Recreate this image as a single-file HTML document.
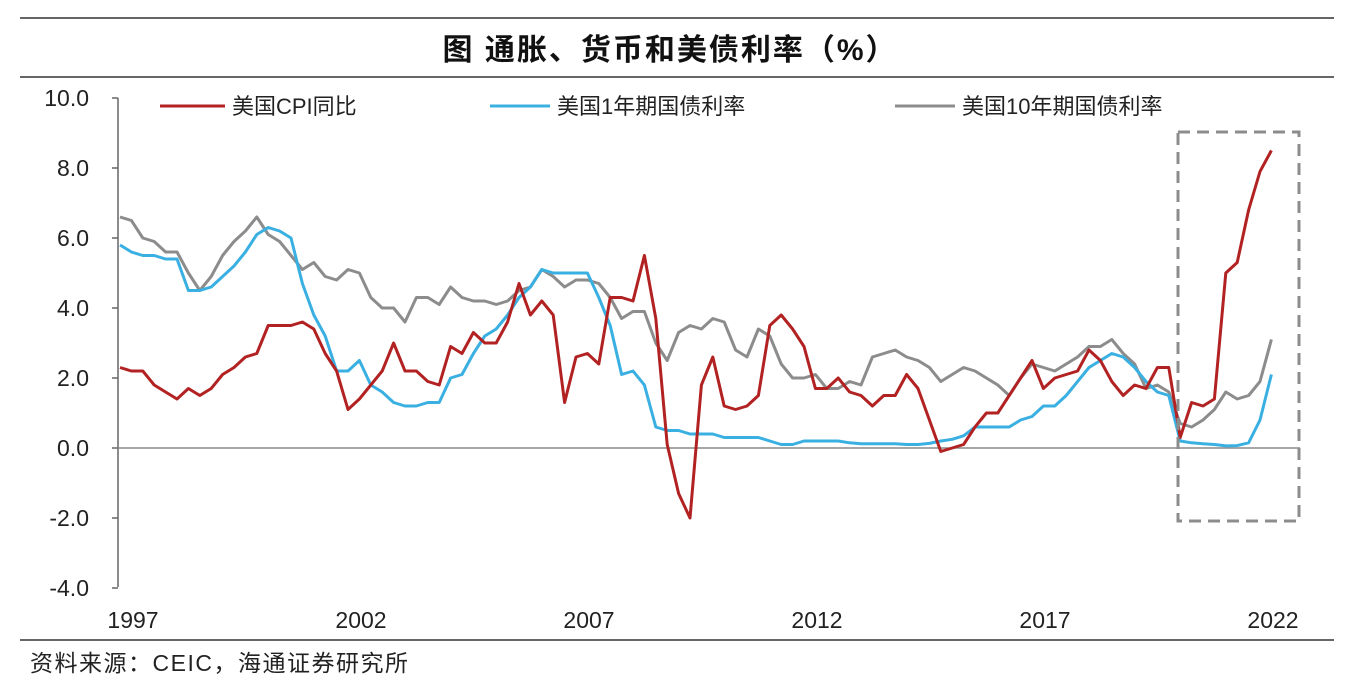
<!DOCTYPE html>
<html><head><meta charset="utf-8"><style>
body{margin:0;background:#fff;}
svg text{font-family:"Liberation Sans","Noto Sans CJK SC",sans-serif;}
</style></head><body>
<svg width="1348" height="684" viewBox="0 0 1348 684">
<line x1="20" y1="18" x2="1334" y2="18" stroke="#333" stroke-width="1.5"/>
<text x="670" y="60" text-anchor="middle" font-size="30" font-weight="bold" fill="#111" letter-spacing="2">图  通胀、货币和美债利率（%）</text>
<line x1="20" y1="77" x2="1334" y2="77" stroke="#333" stroke-width="1.5"/>
<line x1="20" y1="640" x2="1334" y2="640" stroke="#333" stroke-width="1.5"/>
<text x="30" y="671" font-size="23" fill="#222" letter-spacing="1.5">资料来源：CEIC，海通证券研究所</text>
<g id="axes"></g>
<g id="series"></g>
<rect x="1178" y="132" width="121" height="389" fill="none" stroke="#8c8c8c" stroke-width="3" stroke-dasharray="12,7"/>
<g>
<line x1="160" y1="106" x2="225" y2="106" stroke="#b22222" stroke-width="3"/>
<text x="232" y="114" font-size="22" fill="#222">美国CPI同比</text>
<line x1="490" y1="106" x2="550" y2="106" stroke="#3ab0e2" stroke-width="3"/>
<text x="557" y="114" font-size="22" fill="#222">美国1年期国债利率</text>
<line x1="895" y1="106" x2="955" y2="106" stroke="#8c8c8c" stroke-width="3"/>
<text x="962" y="114" font-size="22" fill="#222">美国10年期国债利率</text>
</g>
</svg>
<script>
const yTicks=[10,8,6,4,2,0,-2,-4];
const yTickLabels=["10.0","8.0","6.0","4.0","2.0","0.0","-2.0","-4.0"];
const xTicks=[1997,2002,2007,2012,2017,2022];
const startYear=1997;
const cpi=[2.3,2.2,2.2,1.8,1.6,1.4,1.7,1.5,1.7,2.1,2.3,2.6,2.7,3.5,3.5,3.5,3.6,3.4,2.7,2.2,1.1,1.4,1.8,2.2,3.0,2.2,2.2,1.9,1.8,2.9,2.7,3.3,3.0,3.0,3.6,4.7,3.8,4.2,3.8,1.3,2.6,2.7,2.4,4.3,4.3,4.2,5.5,3.7,0.1,-1.3,-2.0,1.8,2.6,1.2,1.1,1.2,1.5,3.5,3.8,3.4,2.9,1.7,1.7,2.0,1.6,1.5,1.2,1.5,1.5,2.1,1.7,0.8,-0.1,0.0,0.1,0.6,1.0,1.0,1.5,2.0,2.5,1.7,2.0,2.1,2.2,2.8,2.5,1.9,1.5,1.8,1.7,2.3,2.3,0.3,1.3,1.2,1.4,5.0,5.3,6.8,7.9,8.5];
const y1=[5.8,5.6,5.5,5.5,5.4,5.4,4.5,4.5,4.6,4.9,5.2,5.6,6.1,6.3,6.2,6.0,4.7,3.8,3.2,2.2,2.2,2.5,1.8,1.6,1.3,1.2,1.2,1.3,1.3,2.0,2.1,2.7,3.2,3.4,3.8,4.3,4.6,5.1,5.0,5.0,5.0,5.0,4.3,3.5,2.1,2.2,1.8,0.6,0.5,0.5,0.4,0.4,0.4,0.3,0.3,0.3,0.3,0.2,0.1,0.1,0.2,0.2,0.2,0.2,0.15,0.12,0.12,0.12,0.12,0.1,0.1,0.13,0.2,0.25,0.35,0.6,0.6,0.6,0.6,0.8,0.9,1.2,1.2,1.5,1.9,2.3,2.5,2.7,2.6,2.3,1.9,1.6,1.5,0.2,0.15,0.12,0.1,0.06,0.07,0.15,0.8,2.1];
const y10=[6.6,6.5,6.0,5.9,5.6,5.6,5.0,4.5,4.9,5.5,5.9,6.2,6.6,6.1,5.9,5.5,5.1,5.3,4.9,4.8,5.1,5.0,4.3,4.0,4.0,3.6,4.3,4.3,4.1,4.6,4.3,4.2,4.2,4.1,4.2,4.5,4.6,5.1,4.9,4.6,4.8,4.8,4.7,4.3,3.7,3.9,3.9,3.0,2.5,3.3,3.5,3.4,3.7,3.6,2.8,2.6,3.4,3.2,2.4,2.0,2.0,2.1,1.7,1.7,1.9,1.8,2.6,2.7,2.8,2.6,2.5,2.3,1.9,2.1,2.3,2.2,2.0,1.8,1.5,2.0,2.4,2.3,2.2,2.4,2.6,2.9,2.9,3.1,2.7,2.4,1.7,1.8,1.6,0.7,0.6,0.8,1.1,1.6,1.4,1.5,1.9,3.1];

const NS="http://www.w3.org/2000/svg";
const yS=v=>448-v*35;
const xS=t=>120+(t-startYear)*45.6;
const axes=document.getElementById('axes');
function mk(tag,attrs,parent){const e=document.createElementNS(NS,tag);for(const k in attrs)e.setAttribute(k,attrs[k]);parent.appendChild(e);return e;}
const yAxis=mk('line',{x1:118,y1:98,x2:118,y2:587,stroke:'#666','stroke-width':1.5},axes);


const zero=mk('line',{x1:118,y1:yS(0),x2:1300,y2:yS(0),stroke:'#888','stroke-width':1.5},axes);


yTicks.forEach((v,i)=>{
  const tk=mk('line',{x1:112,y1:yS(v),x2:118,y2:yS(v),stroke:'#666','stroke-width':1.5},axes);
  
  
  const t=mk('text',{x:89,y:yS(v)+8,'text-anchor':'end','font-size':23,fill:'#222'},axes);
  t.textContent=yTickLabels[i];
  
  
});
xTicks.forEach((yr,i)=>{
  const t=mk('text',{x:xS(yr)+13,y:628,'text-anchor':'middle','font-size':23,fill:'#222'},axes);
  t.textContent=yr;
  
  
});
const sg=document.getElementById('series');
function draw(arr,color,name){
  const pts=arr.map((v,i)=>xS(startYear+i/4).toFixed(1)+','+yS(v).toFixed(1)).join(' ');
  const p=mk('polyline',{points:pts,fill:'none',stroke:color,'stroke-width':3,'stroke-linejoin':'round'},sg);
  
  
}
draw(y10,'#8c8c8c','line-10y-yield');
draw(y1,'#3ab0e2','line-1y-yield');
draw(cpi,'#b22222','line-cpi');
</script>
</body></html>
